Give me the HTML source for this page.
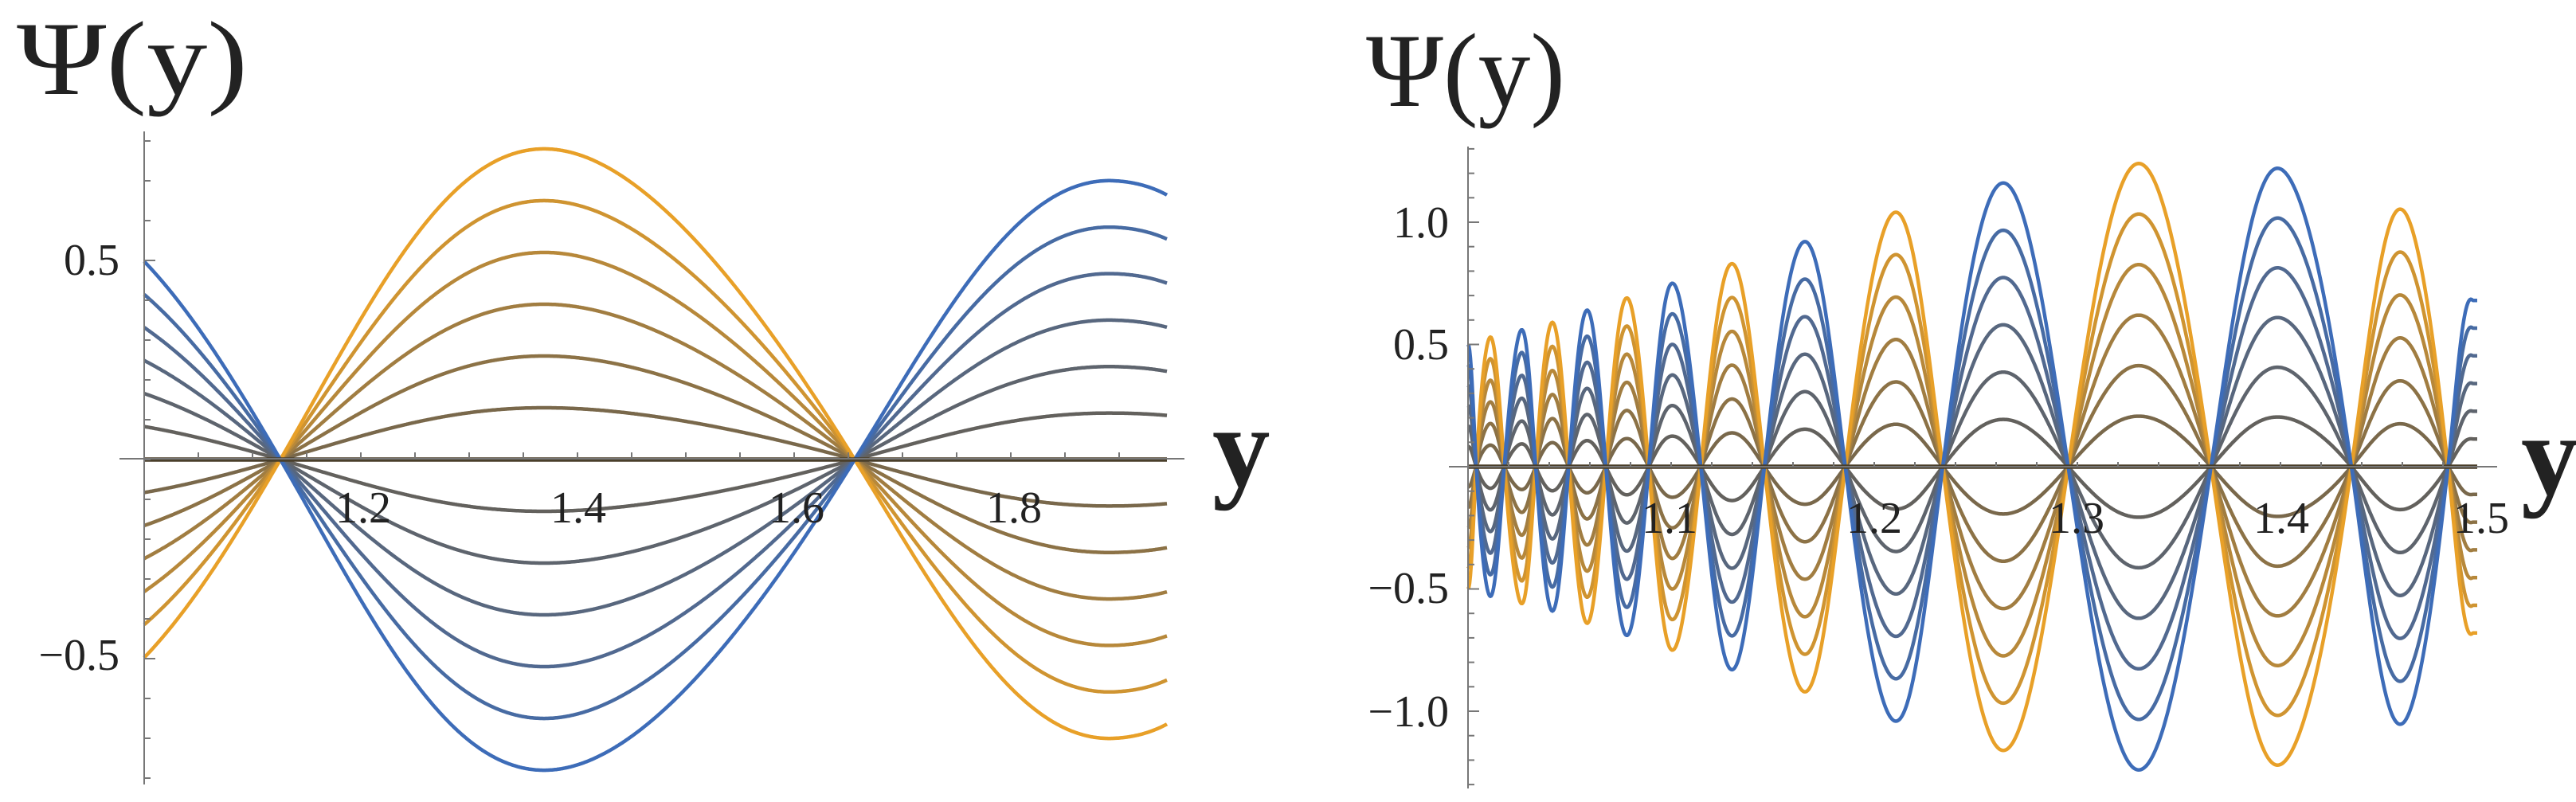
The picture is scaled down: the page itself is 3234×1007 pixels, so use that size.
<!DOCTYPE html>
<html><head><meta charset="utf-8"><style>
html,body{margin:0;padding:0;background:#fff;}
svg{display:block;}
text{font-family:"Liberation Serif",serif;fill:#222;}
</style></head><body>
<svg id="s" width="3234" height="1007" viewBox="0 0 3234 1007" xmlns="http://www.w3.org/2000/svg">
<g id="curves"></g>
<g stroke="#777" stroke-width="2" fill="none">
<line x1="181" y1="165" x2="181" y2="985"/>
<line x1="150" y1="576" x2="1487" y2="576"/>
<line x1="1843" y1="184" x2="1843" y2="990"/>
<line x1="1819" y1="586" x2="3135" y2="586"/>
</g>
<g id="ticks" stroke="#777" stroke-width="2"></g>
<g font-size="56">
<text x="150" y="345" text-anchor="end">0.5</text>
<text x="150" y="841" text-anchor="end">−0.5</text>
<text x="456" y="656" text-anchor="middle">1.2</text>
<text x="726" y="656" text-anchor="middle">1.4</text>
<text x="1000" y="656" text-anchor="middle">1.6</text>
<text x="1273" y="656" text-anchor="middle">1.8</text>
<text x="1819" y="298" text-anchor="end">1.0</text>
<text x="1819" y="451" text-anchor="end">0.5</text>
<text x="1819" y="757" text-anchor="end">−0.5</text>
<text x="1819" y="912" text-anchor="end">−1.0</text>
<text x="2096" y="669" text-anchor="middle">1.1</text>
<text x="2353" y="669" text-anchor="middle">1.2</text>
<text x="2607" y="669" text-anchor="middle">1.3</text>
<text x="2864" y="669" text-anchor="middle">1.4</text>
<text x="3115" y="669" text-anchor="middle">1.5</text>
</g>
<g font-size="132">
<text x="21" y="118" textLength="290" lengthAdjust="spacingAndGlyphs">Ψ(y)</text>
<text x="1715" y="133" textLength="250" lengthAdjust="spacingAndGlyphs">Ψ(y)</text>
<text x="1522" y="610" font-size="145" font-weight="bold">y</text>
<text x="3165" y="620" font-size="145" font-weight="bold">y</text>
</g>
</svg>
<script>
(function(){
var NS="http://www.w3.org/2000/svg";
var g=document.getElementById('curves');
var tk=document.getElementById('ticks');
function interp(k,x){
  if(x<=k[0][0]) return k[0][1];
  for(var i=1;i<k.length;i++){ if(x<=k[i][0]){var t=(x-k[i-1][0])/(k[i][0]-k[i-1][0]);return k[i-1][1]+t*(k[i][1]-k[i-1][1]);}}
  return k[k.length-1][1];
}
function slope(k,i){
  if(i===0) return (k[1][1]-k[0][1])/(k[1][0]-k[0][0]);
  if(i===k.length-1) return (k[i][1]-k[i-1][1])/(k[i][0]-k[i-1][0]);
  return (k[i+1][1]-k[i-1][1])/(k[i+1][0]-k[i-1][0]);
}
function cub(k,x){
  if(x<=k[0][0]) return k[0][1];
  for(var i=1;i<k.length;i++){ if(x<=k[i][0]){
    var h=k[i][0]-k[i-1][0],t=(x-k[i-1][0])/h;
    var m0=slope(k,i-1)*h,m1=slope(k,i)*h;
    var t2=t*t,t3=t2*t;
    return (2*t3-3*t2+1)*k[i-1][1]+(t3-2*t2+t)*m0+(-2*t3+3*t2)*k[i][1]+(t3-t2)*m1;
  }}
  return k[k.length-1][1];
}
function col(c){
  var b=[61,108,184],o=[232,160,40];
  var t=(1-c)/2;
  var d=0.7+0.3*Math.abs(c);
  var r=[0,1,2].map(function(i){return Math.round((b[i]+(o[i]-b[i])*t)*d);});
  return 'rgb('+r.join(',')+')';
}
function plot(x0,x1,phK,amK,y0,scale,sw){
  var cs=[];
  for(var k=-6;k<=6;k++) if(k!==0) cs.push(k/6);
  cs.sort(function(a,b){return Math.abs(a)-Math.abs(b);});
  cs.forEach(function(c){
    var d='';
    for(var x=x0;x<=x1;x+=1){
      var v=c*cub(amK,x)*Math.cos(cub(phK,x));
      d+=(d?'L':'M')+x.toFixed(0)+' '+(y0-v*scale).toFixed(1);
    }
    var p=document.createElementNS(NS,'path');
    p.setAttribute('d',d);p.setAttribute('fill','none');
    p.setAttribute('stroke',col(c));p.setAttribute('stroke-width',sw);
    g.appendChild(p);
  });
  var l=document.createElementNS(NS,'line');
  l.setAttribute('x1',x0);l.setAttribute('x2',x1);l.setAttribute('y1',y0);l.setAttribute('y2',y0);
  l.setAttribute('stroke','#4a3f2a');l.setAttribute('stroke-width',sw+1);
  g.appendChild(l);
}
var P=Math.PI;
plot(181,1465,
 [[181,0.75],[352,P/2],[679,P],[1073,1.5*P],[1399,2*P],[1465,2*P+0.32]],
 [[181,0.68],[679,0.78],[1073,0.74],[1399,0.70],[1465,0.70]],
 577,500,4.5);
var zx=[218,228,245,262,283,300,320,340,362,385,410,437,465,500,537,577,625,675,735,793,865,945,1030,1118,1200,1288,1350,1405,1435];
var ph=[];for(var i=0;i<zx.length;i++) ph.push([1617+zx[i]*1.0365,i*P/2]);
var pk=[0.5,0.53,0.56,0.59,0.64,0.69,0.75,0.83,0.92,1.04,1.16,1.24,1.22,1.05,0.68];
var am=[];for(var i=0;i<pk.length;i++) am.push([1617+zx[2*i]*1.0365,pk[i]]);
plot(1843,3110,ph,am,586,307,4.5);
function t(x1,y1,x2,y2){var l=document.createElementNS(NS,'line');l.setAttribute('x1',x1);l.setAttribute('y1',y1);l.setAttribute('x2',x2);l.setAttribute('y2',y2);tk.appendChild(l);}
for(var v=-0.8;v<=0.81;v+=0.1){var y=577-v*500;var big=Math.abs(Math.abs(v)-0.5)<0.01;t(181,y,181+(big?14:8),y);}
for(var v=1.0;v<=1.95;v+=0.05){var x=181+(v-1.0)*1360;t(x,576,x,568);}
for(var v=-1.3;v<=1.31;v+=0.1){var y=586-v*307;var big=Math.abs(Math.abs(v)-0.5)<0.01||Math.abs(Math.abs(v)-1)<0.01;t(1843,y,1843+(big?14:8),y);}
for(var v=1.0;v<=1.5;v+=0.02){var x=1843+(v-1.0)*2550;t(x,586,x,580);}
})();
</script>
</body></html>
